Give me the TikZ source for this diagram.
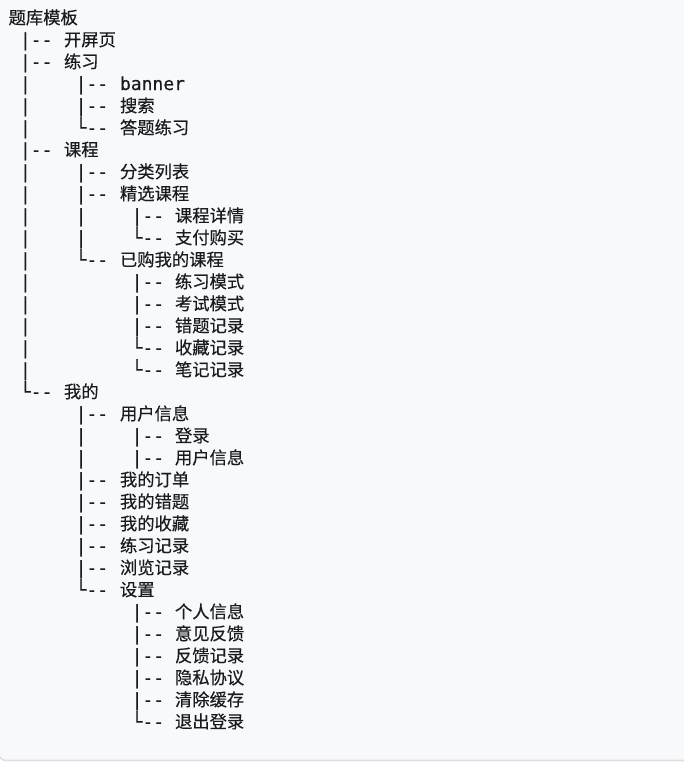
\documentclass[tikz,border=0pt]{standalone}
\usepackage{fontspec}
\newfontfamily\cjkfont[FakeBold=0.35]{Noto Sans CJK SC}
\newfontfamily\monofont[FakeBold=0.35]{DejaVu Sans Mono}
\definecolor{cardbg}{RGB}{248,249,250}
\definecolor{cardline}{RGB}{222,224,227}
\definecolor{ink}{RGB}{26,27,30}
\tikzset{
  branch/.style={anchor=base west, inner sep=0pt, outer sep=0pt, text=ink, font=\monofont\fontsize{18}{22}\selectfont},
  label/.style={anchor=base west, inner sep=0pt, outer sep=0pt, text=ink, font=\cjkfont\fontsize{17.3}{22}\selectfont},
}
\begin{document}
\begin{tikzpicture}[x=1pt,y=-1pt]
\useasboundingbox (0,0) rectangle (684,764);
\fill[white] (0,0) rectangle (684,764);
\begin{scope}
\clip (0,0) rectangle (684,764);
\draw[cardline, fill=cardbg, line width=1.6pt, rounded corners=8pt] (-2,-30) rectangle (720,760.5);
\end{scope}
% title
\node[label] (title) at (8.6,24) {题库模板};
% columns: 1,2,3 -> bar cell start and text x
\def\colbar#1{\ifcase#1\or19.9\or75.6\or131.6\fi}
\def\coltext#1{\ifcase#1\or64\or120\or175\fi}
% rows: index / column / glyph / label
\foreach \i/\c/\g/\t in {
  1/1/|--/开屏页,
  2/1/|--/练习,
  3/2/|--/{\monofont\fontsize{18}{22}\selectfont banner},
  4/2/|--/搜索,
  5/2/└--/答题练习,
  6/1/|--/课程,
  7/2/|--/分类列表,
  8/2/|--/精选课程,
  9/3/|--/课程详情,
  10/3/└--/支付购买,
  11/2/└--/已购我的课程,
  12/3/|--/练习模式,
  13/3/|--/考试模式,
  14/3/|--/错题记录,
  15/3/└--/收藏记录,
  16/3/└--/笔记记录,
  17/1/└--/我的,
  18/2/|--/用户信息,
  19/3/|--/登录,
  20/3/|--/用户信息,
  21/2/|--/我的订单,
  22/2/|--/我的错题,
  23/2/|--/我的收藏,
  24/2/|--/练习记录,
  25/2/|--/浏览记录,
  26/2/└--/设置,
  27/3/|--/个人信息,
  28/3/|--/意见反馈,
  29/3/|--/反馈记录,
  30/3/|--/隐私协议,
  31/3/|--/清除缓存,
  32/3/└--/退出登录}{
  \node[branch] (b\i) at ({\colbar{\c}},{24+22*\i}) {\g};
  \node[label] (t\i) at ({\coltext{\c}},{24+22*\i}) {\t};
}
% continuation bars: row / column
\foreach \i/\c in {
  3/1,4/1,5/1,
  7/1,8/1,9/1,9/2,10/1,10/2,11/1,
  12/1,13/1,14/1,15/1,16/1,
  19/2,20/2}{
  \node[branch] (v\i c\c) at ({\colbar{\c}},{24+22*\i}) {|};
}
\end{tikzpicture}
\end{document}
